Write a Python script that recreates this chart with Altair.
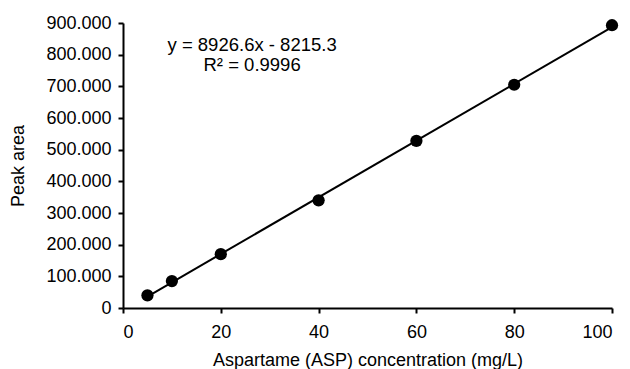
import altair as alt
import pandas as pd

conc = [5, 10, 20, 40, 60, 80, 100]
area = [40000, 85000, 170000, 340000, 528000, 705000, 893000]

eq_text = ["y = 8926.6x - 8215.3", "R² = 0.9996"]
eq_x = [26.4, 26.4]
eq_y = [813000, 750000]

x_ticks = [0, 20, 40, 60, 80, 100]
y_ticks = [0, 100000, 200000, 300000, 400000, 500000, 600000, 700000, 800000, 900000]

df = pd.DataFrame({"x": conc, "y": area})
tdf = pd.DataFrame({"x": eq_x, "y": eq_y, "t": eq_text})

FONT = "Liberation Sans"
FS = 18

xsc = alt.Scale(domain=[0, 100], nice=False, zero=True)
ysc = alt.Scale(domain=[0, 900000], nice=False)

xax = alt.Axis(values=x_ticks, title="Aspartame (ASP) concentration (mg/L)",
               grid=False, tickSize=5, labelPadding=10, titlePadding=10, labelOverlap=False)
yax = alt.Axis(values=y_ticks,
               title="Peak area", grid=False, tickSize=5, labelPadding=7, titlePadding=18,
               labelOverlap=False,
               labelExpr="replace(format(datum.value, ','), regexp(',', 'g'), '.')")

base = alt.Chart(df)

line = base.mark_line(color="black", strokeWidth=2).encode(
    x=alt.X("x:Q", scale=xsc, axis=xax),
    y=alt.Y("y:Q", scale=ysc, axis=yax),
).transform_regression("x", "y", method="linear")

pts = base.mark_circle(color="black", opacity=1, size=150).encode(
    x=alt.X("x:Q", scale=xsc, axis=xax),
    y=alt.Y("y:Q", scale=ysc, axis=yax),
)

txt = alt.Chart(tdf).mark_text(font=FONT, fontSize=18.5, color="black", align="center",
                               baseline="alphabetic").encode(
    x=alt.X("x:Q", scale=xsc, axis=xax),
    y=alt.Y("y:Q", scale=ysc, axis=yax),
    text="t:N",
)

chart = (line + pts + txt).properties(
    width=489, height=285,
    autosize=alt.AutoSizeParams(type="none"),
    padding={"left": 115, "top": 15, "right": 10, "bottom": 61},
).configure_view(stroke=None).configure_axis(
    labelFont=FONT, titleFont=FONT, labelFontSize=FS, titleFontSize=FS,
    labelColor="black", titleColor="black", titleFontWeight="normal",
    domainColor="black", tickColor="black", domainWidth=2, tickWidth=2,
)

chart.save("out.html", embed_options={"renderer": "svg", "actions": False})
